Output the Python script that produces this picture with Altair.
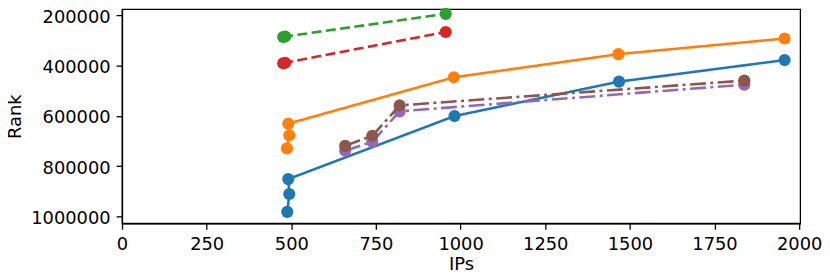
import altair as alt
import pandas as pd

# data
series_names = ["blue", "orange", "green", "red", "purple", "brown"]
colors = ["#1f77b4", "#ff7f0e", "#2ca02c", "#d62728", "#9467bd", "#8c564b"]
dashes = [[1, 0], [1, 0], [10, 4.5], [10, 4.5], [16, 4.5, 3, 4.5], [16, 4.5, 3, 4.5]]

blue_x = [488, 494, 491, 982, 1468, 1957]
blue_y = [981000, 910000, 851000, 600700, 464000, 378500]
orange_x = [487, 494, 491, 980, 1466, 1957]
orange_y = [729000, 677000, 631000, 447000, 355000, 293000]
green_x = [476, 482, 956]
green_y = [287000, 285000, 195000]
red_x = [476, 482, 956]
red_y = [391000, 389000, 267000]
purple_x = [659, 739, 820, 1838]
purple_y = [738500, 703000, 582000, 476000]
brown_x = [659, 739, 820, 1838]
brown_y = [719000, 679000, 558500, 460000]

xs = [blue_x, orange_x, green_x, red_x, purple_x, brown_x]
ys = [blue_y, orange_y, green_y, red_y, purple_y, brown_y]

x_ticks = [0, 250, 500, 750, 1000, 1250, 1500, 1750, 2000]
y_ticks = [200000, 400000, 600000, 800000, 1000000]

FONT = "DejaVu Sans"

layers = []
for i, name in enumerate(series_names):
    df = pd.DataFrame({"IPs": xs[i], "Rank": ys[i], "idx": list(range(len(xs[i])))})
    x_enc = alt.X("IPs:Q", scale=alt.Scale(domain=[0, 2003], nice=False, zero=False),
                  axis=alt.Axis(values=x_ticks, title="IPs", grid=False, format="d",
                                labelFlush=False, labelOverlap=False))
    y_enc = alt.Y("Rank:Q", scale=alt.Scale(domain=[176400, 1026400], reverse=True, nice=False, zero=False),
                  axis=alt.Axis(values=y_ticks, title="Rank", grid=False, format="d",
                                labelFlush=False, labelOverlap=False, labelOffset=2))
    line = alt.Chart(df).mark_line(color=colors[i], strokeWidth=2.6, strokeDash=dashes[i], clip=False).encode(
        x=x_enc, y=y_enc, order="idx:Q")
    pts = alt.Chart(df).mark_circle(color=colors[i], size=150, opacity=1, clip=False).encode(x=x_enc, y=y_enc)
    layers += [line, pts]

chart = alt.layer(*layers).properties(
    width=684, height=216,
    autosize=alt.AutoSizeParams(type="none"),
    padding={"left": 115, "top": 0, "right": 22, "bottom": 54},
).configure_view(stroke="black", strokeWidth=1.3).configure_axis(
    labelFont=FONT, titleFont=FONT, labelFontSize=18, titleFontSize=18,
    labelColor="black", titleColor="black", titleFontWeight="normal",
    domainColor="black", tickColor="black", domainWidth=1.3, tickWidth=1.3, tickSize=6,
    labelPadding=6,
).configure_axisX(titlePadding=3).configure_axisY(titlePadding=6)

chart.save("out.html", embed_options={"renderer": "svg", "actions": False})
